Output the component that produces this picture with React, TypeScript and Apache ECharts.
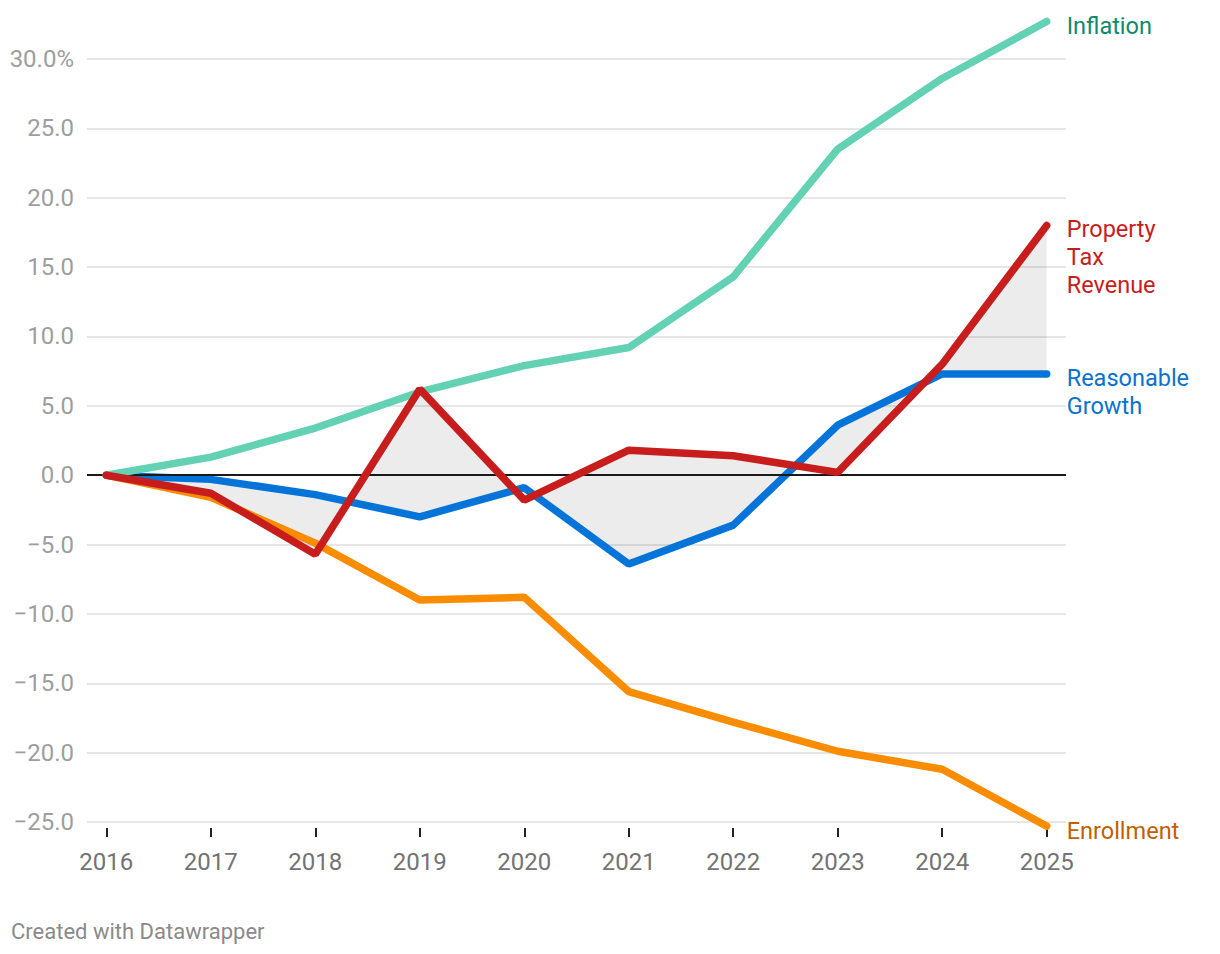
import React, { useEffect, useRef } from "react";
import * as echarts from "echarts";

const years = [2016, 2017, 2018, 2019, 2020, 2021, 2022, 2023, 2024, 2025];
const inflation = [0, 1.3, 3.4, 6.0, 7.9, 9.2, 14.3, 23.5, 28.6, 32.7];
const propertyTax = [0, -1.3, -5.7, 6.2, -1.8, 1.8, 1.4, 0.2, 8.0, 18.0];
const reasonableGrowth = [0, -0.3, -1.4, -3.0, -0.9, -6.4, -3.6, 3.6, 7.3, 7.3];
const enrollment = [0, -1.6, -4.9, -9.0, -8.8, -15.6, -17.8, -19.9, -21.2, -25.3];

const seriesNames = ["Inflation", "Property\nTax\nRevenue", "Reasonable\nGrowth", "Enrollment"];
const yTicks = [-25, -20, -15, -10, -5, 0, 5, 10, 15, 20, 25, 30];

const FONT = "Roboto, 'Noto Sans', sans-serif";

export default function App() {
  const ref = useRef<HTMLDivElement>(null);

  useEffect(() => {
    if (!ref.current) return;
    const chart = echarts.init(ref.current, undefined, { renderer: "svg" });

    const pair = (arr: number[]) => years.map((y, i) => [y, arr[i]]);

    const mkLine = (
      name: string,
      data: number[],
      color: string,
      labelColor: string,
      dy: number,
      z: number
    ) => ({
      type: "line",
      name,
      data: pair(data),
      showSymbol: false,
      symbol: "none",
      clip: false,
      z,
      lineStyle: { color, width: 7.5, cap: "round" },
      itemStyle: { color },
      emphasis: { disabled: true },
      endLabel: {
        show: true,
        formatter: name,
        color: labelColor,
        fontSize: 23.5,
        lineHeight: 28,
        fontFamily: FONT,
        distance: 20,
        offset: [0, dy],
        align: "left",
        verticalAlign: "middle",
      },
    });

    const option: any = {
      animation: false,
      backgroundColor: "#ffffff",
      grid: { left: 87, right: 154, top: 59, bottom: 132, containLabel: false },
      xAxis: {
        type: "value",
        min: 2015.815,
        max: 2025.185,
        offset: 6,
        position: "bottom",
        axisLine: { show: false, onZero: false },
        splitLine: { show: false },
        axisTick: {
          show: true,
          customValues: years,
          length: 9,
          lineStyle: { color: "#222222", width: 2 },
        },
        axisLabel: {
          show: true,
          customValues: years,
          formatter: (v: number) => String(Math.round(v)),
          color: "#737373",
          fontSize: 24,
          fontFamily: FONT,
          margin: 22,
        },
      },
      yAxis: {
        type: "value",
        min: -25,
        max: 30,
        interval: 5,
        axisLine: { show: false },
        axisTick: { show: false },
        splitLine: { show: true, lineStyle: { color: "#e6e6e6", width: 2 } },
        axisLabel: {
          color: "#9e9e9e",
          fontSize: 24,
          fontFamily: FONT,
          margin: 13,
          formatter: (v: number) => {
            const t = Math.abs(v).toFixed(1);
            const s = (v < 0 ? "\u2212" : "") + t;
            return v === yTicks[yTicks.length - 1] ? s + "%" : s;
          },
        },
      },
      series: [
        {
          type: "custom",
          name: "gap",
          coordinateSystem: "cartesian2d",
          data: [[years[0], 0]],
          z: 1,
          silent: true,
          clip: false,
          renderItem: (params: any, api: any) => {
            const pts: number[][] = [];
            for (let i = 0; i < years.length; i++) pts.push(api.coord([years[i], propertyTax[i]]));
            for (let i = years.length - 1; i >= 0; i--) pts.push(api.coord([years[i], reasonableGrowth[i]]));
            return {
              type: "polygon",
              shape: { points: pts },
              style: { fill: "rgba(0,0,0,0.075)", stroke: "none" },
            };
          },
        },
        {
          type: "line",
          name: "zero",
          data: [],
          silent: true,
          z: 2,
          markLine: {
            silent: true,
            symbol: "none",
            label: { show: false },
            lineStyle: { color: "#1a1a1a", width: 2, type: "solid" },
            emphasis: { disabled: true },
            data: [{ yAxis: 0 }],
          },
        },
        mkLine(seriesNames[3], enrollment, "#fa8c00", "#c25f00", 5, 3),
        mkLine(seriesNames[2], reasonableGrowth, "#0474d9", "#0a72cf", 18, 4),
        mkLine(seriesNames[0], inflation, "#63d1b4", "#0f8a6d", 4, 5),
        mkLine(seriesNames[1], propertyTax, "#c71e1d", "#c71e1d", 32, 6),
      ],
      graphic: [
        {
          type: "text",
          x: 11,
          y: 931,
          style: {
            text: "Created with Datawrapper",
            fill: "#8a8a8a",
            fontSize: 22,
            fontFamily: FONT,
            verticalAlign: "middle",
            align: "left",
          },
        },
      ],
    };

    chart.setOption(option);
    return () => chart.dispose();
  }, []);

  return (
    <div
      ref={ref}
      style={{ position: "absolute", left: 0, top: 0, width: 1220, height: 954, background: "#fff" }}
    />
  );
}
